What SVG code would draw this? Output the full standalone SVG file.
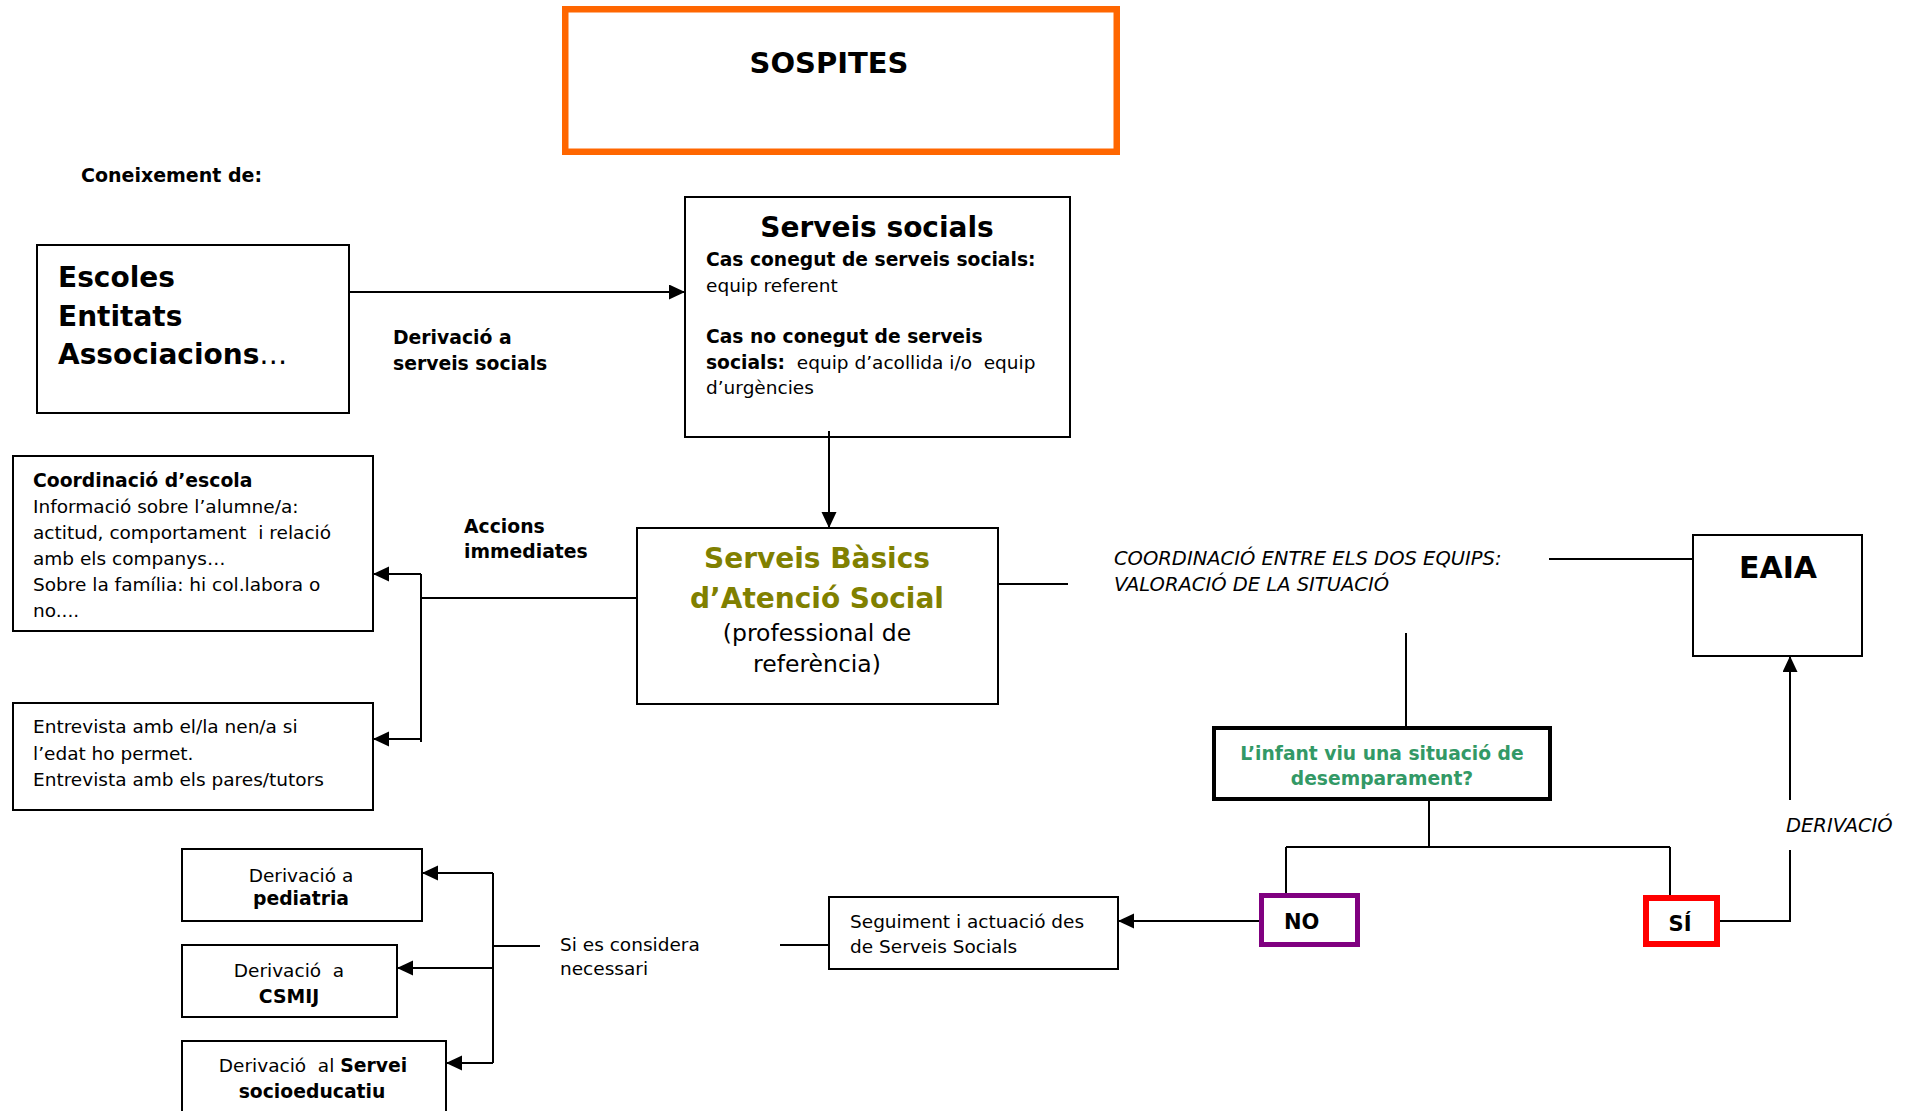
<svg xmlns="http://www.w3.org/2000/svg" width="1924" height="1111" viewBox="0 0 1924 1111">
  <style>
    .box { fill: #ffffff; stroke: #000000; stroke-width: 2; }
    .t { font-family: "DejaVu Sans", Verdana, sans-serif; fill: #000000; font-size: 18.5px; }
    .b { font-weight: bold; }
    .i { font-style: italic; }
    .mid { text-anchor: middle; }
    #connectors path { fill: none; stroke: #000000; stroke-width: 2; }
  </style>
  <defs>
    <marker id="arrow" markerUnits="userSpaceOnUse" markerWidth="17" markerHeight="16" refX="16" refY="7.5" orient="auto">
      <path d="M0,0 L16,7.5 L0,15 Z" fill="#000000"/>
    </marker>
  </defs>

  <rect width="1924" height="1111" fill="#ffffff"/>

  <!-- title -->
  <g id="sospites">
    <rect x="565.25" y="9.25" width="551.5" height="142.5" fill="#ffffff" stroke="#ff6600" stroke-width="6.5"/>
    <text class="t b mid" x="829" y="73" style="font-size:29px">SOSPITES</text>
  </g>

  <text class="t b" x="81" y="182" style="font-size:19px">Coneixement de:</text>

  <g id="escoles">
    <rect class="box" x="37" y="245" width="312" height="168"/>
    <text class="t b" x="58" y="287" style="font-size:28px">Escoles</text>
    <text class="t b" x="58" y="326" style="font-size:28px">Entitats</text>
    <text class="t" x="58" y="364" style="font-size:28px"><tspan class="b">Associacions</tspan>…</text>
  </g>

  <g id="label-derivacio">
    <text class="t b" x="393" y="344" style="font-size:18.8px">Derivació a</text>
    <text class="t b" x="393" y="370" style="font-size:18.8px">serveis socials</text>
  </g>

  <g id="serveis-socials">
    <rect class="box" x="685" y="197" width="385" height="240"/>
    <text class="t b mid" x="877" y="237" style="font-size:28px">Serveis socials</text>
    <text class="t b" x="706" y="266" style="font-size:18.7px">Cas conegut de serveis socials:</text>
    <text class="t" x="706" y="292">equip referent</text>
    <text class="t b" x="706" y="343" style="font-size:18.7px">Cas no conegut de serveis</text>
    <text class="t" x="706" y="369" xml:space="preserve"><tspan class="b" style="font-size:18.7px">socials:</tspan>  equip d’acollida i/o  equip</text>
    <text class="t" x="706" y="394">d’urgències</text>
  </g>

  <g id="coordinacio-escola">
    <rect class="box" x="13" y="456" width="360" height="175"/>
    <text class="t b" x="33" y="487" style="font-size:18.8px">Coordinació d’escola</text>
    <text class="t" x="33" y="513">Informació sobre l’alumne/a:</text>
    <text class="t" x="33" y="539" xml:space="preserve">actitud, comportament  i relació</text>
    <text class="t" x="33" y="565">amb els companys…</text>
    <text class="t" x="33" y="591">Sobre la família: hi col.labora o</text>
    <text class="t" x="33" y="617">no....</text>
  </g>

  <g id="entrevista">
    <rect class="box" x="13" y="703" width="360" height="107"/>
    <text class="t" x="33" y="733">Entrevista amb el/la nen/a si</text>
    <text class="t" x="33" y="760">l’edat ho permet.</text>
    <text class="t" x="33" y="786">Entrevista amb els pares/tutors</text>
  </g>

  <g id="label-accions">
    <text class="t b" x="464" y="533" style="font-size:18.8px">Accions</text>
    <text class="t b" x="464" y="558" style="font-size:18.8px">immediates</text>
  </g>

  <g id="serveis-basics">
    <rect class="box" x="637" y="528" width="361" height="176"/>
    <text class="t b mid" x="817" y="568" style="font-size:28px;fill:#808000">Serveis Bàsics</text>
    <text class="t b mid" x="817" y="608" style="font-size:28px;fill:#808000">d’Atenció Social</text>
    <text class="t mid" x="817" y="641" style="font-size:23.5px">(professional de</text>
    <text class="t mid" x="817" y="672" style="font-size:23.5px">referència)</text>
  </g>

  <g id="label-coordinacio">
    <text class="t i" x="1114" y="565" style="font-size:19.5px">COORDINACIÓ ENTRE ELS DOS EQUIPS:</text>
    <text class="t i" x="1114" y="591" style="font-size:19.5px">VALORACIÓ DE LA SITUACIÓ</text>
  </g>

  <g id="eaia">
    <rect class="box" x="1693" y="535" width="169" height="121"/>
    <text class="t b mid" x="1778" y="578" style="font-size:30px">EAIA</text>
  </g>

  <g id="pregunta">
    <rect x="1214" y="728" width="336" height="71" fill="#ffffff" stroke="#000000" stroke-width="4"/>
    <text class="t b mid" x="1382" y="760" style="font-size:18.7px;fill:#339966">L’infant viu una situació de</text>
    <text class="t b mid" x="1382" y="785" style="font-size:18.7px;fill:#339966">desemparament?</text>
  </g>

  <g id="no">
    <rect x="1261.5" y="895.5" width="96" height="49" fill="#ffffff" stroke="#800080" stroke-width="5"/>
    <text class="t b" x="1284" y="929" style="font-size:21px">NO</text>
  </g>

  <g id="si">
    <rect x="1646" y="898" width="71" height="46" fill="#ffffff" stroke="#ff0000" stroke-width="6"/>
    <text class="t b mid" x="1680" y="931" style="font-size:21px">SÍ</text>
  </g>

  <text class="t i" x="1786" y="832" style="font-size:19.5px">DERIVACIÓ</text>

  <g id="seguiment">
    <rect class="box" x="829" y="897" width="289" height="72"/>
    <text class="t" x="850" y="928">Seguiment i actuació des</text>
    <text class="t" x="850" y="953">de Serveis Socials</text>
  </g>

  <g id="label-necessari">
    <text class="t" x="560" y="951">Si es considera</text>
    <text class="t" x="560" y="975">necessari</text>
  </g>

  <g id="pediatria">
    <rect class="box" x="182" y="849" width="240" height="72"/>
    <text class="t mid" x="301" y="882">Derivació a</text>
    <text class="t b mid" x="301" y="905" style="font-size:18.8px">pediatria</text>
  </g>

  <g id="csmij">
    <rect class="box" x="182" y="945" width="215" height="72"/>
    <text class="t mid" x="289" y="977" xml:space="preserve">Derivació  a</text>
    <text class="t b mid" x="289" y="1003" style="font-size:18.8px">CSMIJ</text>
  </g>

  <g id="socioeducatiu">
    <rect class="box" x="182" y="1041" width="264" height="90"/>
    <text class="t mid" x="313" y="1072" xml:space="preserve">Derivació  al <tspan class="b" style="font-size:18.8px">Servei</tspan></text>
    <text class="t b mid" x="312" y="1098" style="font-size:18.8px">socioeducatiu</text>
  </g>

  <g id="connectors">
    <path d="M349,292 H685" marker-end="url(#arrow)"/>
    <path d="M829,431 V528" marker-end="url(#arrow)"/>
    <path d="M637,598 H421"/>
    <path d="M421,574 V742"/>
    <path d="M421,574 H373" marker-end="url(#arrow)"/>
    <path d="M421,739 H373" marker-end="url(#arrow)"/>
    <path d="M998,584 H1068"/>
    <path d="M1549,559 H1693"/>
    <path d="M1406,633 V726"/>
    <path d="M1429,801 V847"/>
    <path d="M1286,847 H1670"/>
    <path d="M1286,847 V893"/>
    <path d="M1670,847 V895"/>
    <path d="M1720,921 H1790 V850"/>
    <path d="M1790,800 V656" marker-end="url(#arrow)"/>
    <path d="M1259,921 H1118" marker-end="url(#arrow)"/>
    <path d="M829,945 H780"/>
    <path d="M540,946 H493"/>
    <path d="M493,873 V1063"/>
    <path d="M493,873 H422" marker-end="url(#arrow)"/>
    <path d="M493,968 H397" marker-end="url(#arrow)"/>
    <path d="M493,1063 H446" marker-end="url(#arrow)"/>
  </g>
</svg>
